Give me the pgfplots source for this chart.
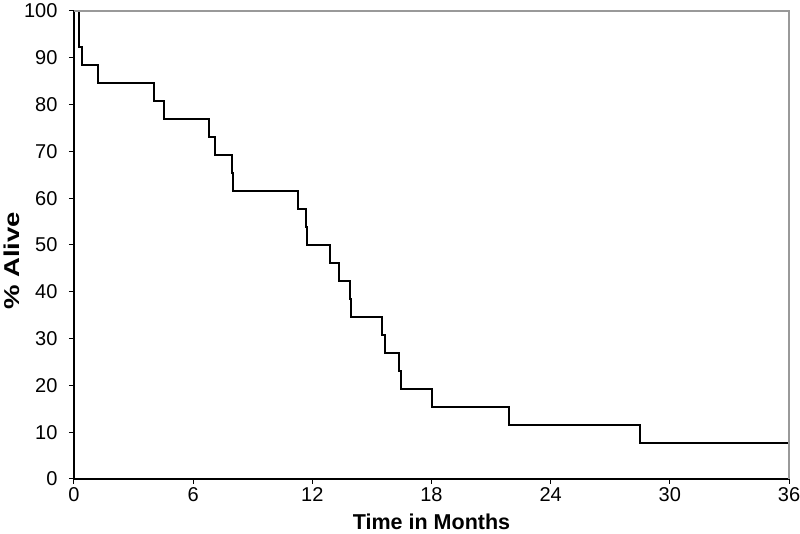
\documentclass[border=0pt]{standalone}
\usepackage{pgfplots}
\pgfplotsset{compat=1.18}
\usepackage{fontspec}
\setmainfont{Liberation Sans}
\begin{document}
\begin{tikzpicture}
\path[use as bounding box] (-74pt,-55pt) rectangle (726pt,479pt);
\begin{axis}[
  scale only axis,
  width=715pt, height=468pt,
  xmin=0, xmax=36, ymin=0, ymax=100,
  xtick={0,6,...,36},
  ytick={0,10,...,100},
  axis x line*=bottom,
  axis y line*=left,
  axis line style={black, line width=1.3pt, -},
  tick align=outside,
  major tick length=5pt,
  tick style={black, line width=1pt},
  /pgf/number format/assume math mode=true,
  ticklabel style={font=\fontsize{20}{23}\selectfont},
  xticklabel style={yshift=0pt},
  yticklabel style={xshift=-8pt},
  xlabel={\textbf{Time in Months}},
  ylabel={\scalebox{1.28}[1]{\textbf{\% Alive}}},
  label style={font=\fontsize{21.5}{25}\selectfont},
  xlabel style={at={(axis description cs:0.5,0)}, anchor=center, yshift=-43pt},
  ylabel style={at={(axis description cs:0,0.5)}, anchor=center, yshift=62pt, xshift=-16pt},
  clip=false,
]
\addplot[const plot mark left, black, line width=2.2pt] coordinates {
(0,100) (0.27,92.3) (0.42,88.5) (1.22,84.6) (4.04,80.8) (4.55,76.9)
(6.8,73.1) (7.1,69.2) (7.97,65.4) (8.02,61.5) (11.26,57.7) (11.68,53.8)
(11.73,50) (12.89,46.2) (13.34,42.3) (13.9,38.5) (13.95,34.6) (15.49,30.8)
(15.67,26.9) (16.38,23.1) (16.45,19.2) (18.04,15.4) (21.9,11.5) (28.5,7.7)
(36,7.7)
};
\draw[gray!80, line width=1.2pt] (rel axis cs:0,1) -- (rel axis cs:1,1) -- (rel axis cs:1,0);
\end{axis}
\end{tikzpicture}
\end{document}
